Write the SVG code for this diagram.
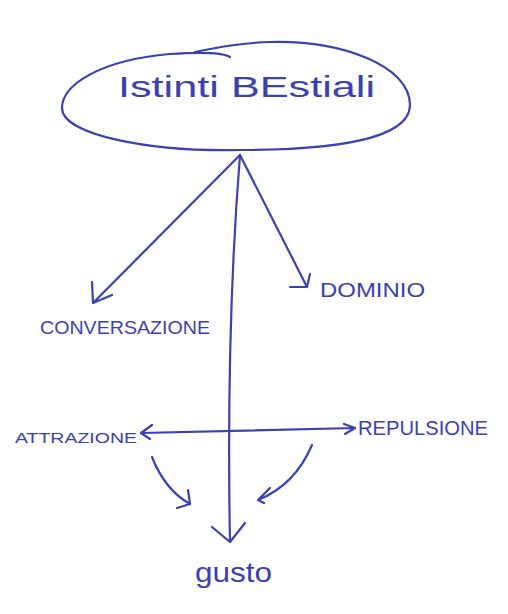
<svg xmlns="http://www.w3.org/2000/svg" width="508" height="614" viewBox="0 0 508 614">
<style>
.ink{fill:none;stroke:#3b40b2;stroke-width:2.2;stroke-linecap:round;stroke-linejoin:round}
.t{font-family:"Liberation Sans",Arial,sans-serif;fill:#3b40b2}
</style>
<rect width="508" height="614" fill="#ffffff"/>
<g id="istinti">
<path class="ink" d="M230,57 C222,52 200,52 170,54 C100,60 62,85 62,108 C62,135 150,152 240,150 C330,150 410,140 410,105 C410,65 340,40 270,42 C240,43 220,47 195,52"/>
<text class="t" x="118" y="97" font-size="29" textLength="257" lengthAdjust="spacingAndGlyphs">Istinti BEstiali</text>
</g>
<g id="conversazione"><text class="t" x="40" y="334" font-size="19" textLength="170" lengthAdjust="spacingAndGlyphs">CONVERSAZIONE</text></g>
<g id="dominio"><text class="t" x="320" y="297" font-size="21" textLength="105" lengthAdjust="spacingAndGlyphs">DOMINIO</text></g>
<g id="attrazione"><text class="t" x="15" y="443" font-size="15" textLength="122" lengthAdjust="spacingAndGlyphs">ATTRAZIONE</text></g>
<g id="repulsione"><text class="t" x="358" y="435" font-size="20" textLength="130" lengthAdjust="spacingAndGlyphs">REPULSIONE</text></g>
<g id="gusto"><text class="t" x="195" y="582" font-size="28" textLength="77" lengthAdjust="spacingAndGlyphs">gusto</text></g>
<g id="connectors">
<path class="ink" d="M240,155 L93,303 M93,303 L92,282 M93,303 L112,295"/>
<path class="ink" d="M240,155 L307,287 M307,287 L290,287 M307,287 L310,274"/>
<path class="ink" d="M240,155 Q226,330 230,542 M230,542 L212,527 M230,542 L245,523"/>
<path class="ink" d="M141,433 L355,428 M141,433 L152,425 M141,433 L150,439 M355,428 L344,424 M355,428 L345,434"/>
<path class="ink" d="M152,457 Q165,490 190,504 M190,504 L188,490 M190,504 L177,508"/>
<path class="ink" d="M312,445 Q295,485 258,500 M258,500 L270,488 M258,500 L264,503"/>
</g>
</svg>
